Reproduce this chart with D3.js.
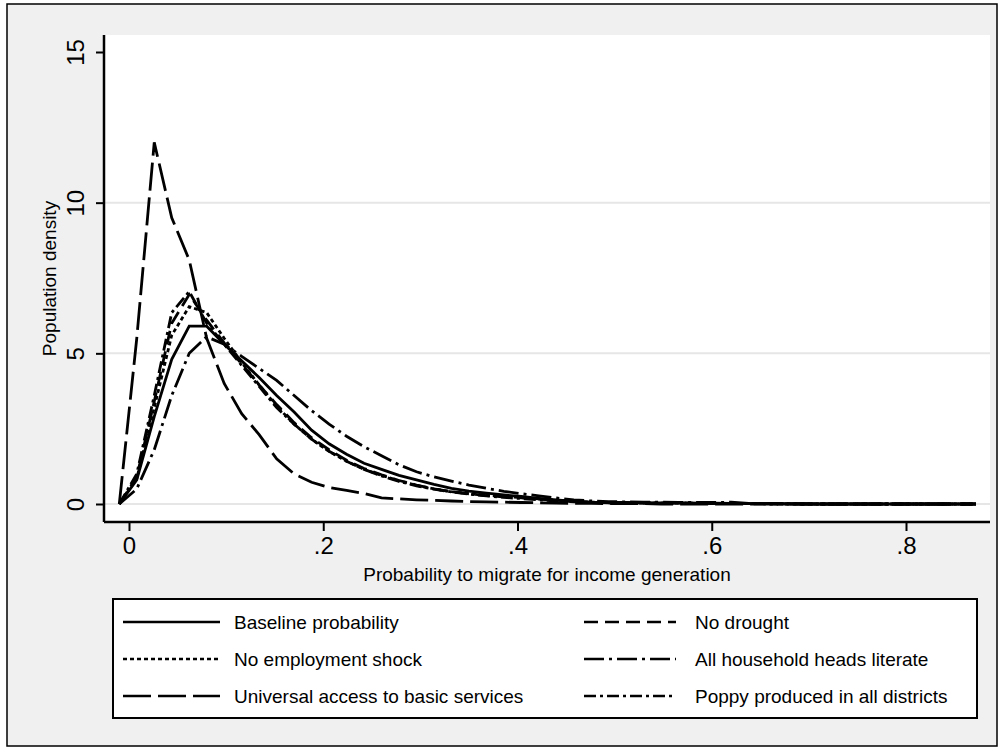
<!DOCTYPE html>
<html>
<head>
<meta charset="utf-8">
<script src="https://cdn.jsdelivr.net/npm/d3@7"></script>
<style>
  body { margin: 0; background: #fff; }
  svg { display: block; font-family: "Liberation Sans", Arial, sans-serif; }
</style>
</head>
<body>
<svg id="chart" width="1003" height="750"></svg>
<script>
// evaluation points of the density estimates
let xGrid = [-0.010, 0.008, 0.026, 0.044, 0.062, 0.080, 0.098, 0.116, 0.134, 0.152,
  0.170, 0.188, 0.206, 0.224, 0.242, 0.260, 0.278, 0.296, 0.314, 0.332,
  0.350, 0.368, 0.386, 0.404, 0.422, 0.440, 0.458, 0.476, 0.494, 0.512,
  0.530, 0.548, 0.566, 0.584, 0.602, 0.620, 0.638, 0.656, 0.674, 0.692,
  0.710, 0.728, 0.746, 0.764, 0.782, 0.800, 0.818, 0.836, 0.854, 0.872];

let baseline = [0, 0.8, 2.9, 4.8, 5.9, 5.9, 5.3, 4.75, 4.2, 3.6,
  3.05, 2.45, 2.0, 1.65, 1.35, 1.15, 0.95, 0.8, 0.65, 0.52,
  0.43, 0.36, 0.3, 0.25, 0.19, 0.14, 0.09, 0.06, 0.05, 0.05,
  0.04, 0.04, 0.04, 0.03, 0.03, 0.02, 0.01, 0.01, 0.01, 0.01,
  0, 0, 0, 0, 0, 0, 0, 0, 0, 0];
let noDrought = [0, 0.9, 3.4, 6.0, 6.95, 6.1, 5.35, 4.65, 3.95, 3.3,
  2.7, 2.2, 1.8, 1.45, 1.18, 0.97, 0.78, 0.63, 0.5, 0.41,
  0.34, 0.28, 0.24, 0.2, 0.16, 0.12, 0.08, 0.05, 0.04, 0.04,
  0.03, 0.03, 0.03, 0.02, 0.02, 0.02, 0.01, 0.01, 0, 0,
  0, 0, 0, 0, 0, 0, 0, 0, 0, 0];
let noEmployShock = [0, 0.85, 3.2, 5.6, 6.55, 6.35, 5.5, 4.7, 3.95, 3.25,
  2.65, 2.15, 1.75, 1.42, 1.15, 0.95, 0.77, 0.62, 0.5, 0.41,
  0.34, 0.29, 0.25, 0.21, 0.17, 0.13, 0.09, 0.06, 0.05, 0.04,
  0.04, 0.03, 0.03, 0.03, 0.02, 0.02, 0.01, 0.01, 0.01, 0,
  0, 0, 0, 0, 0, 0, 0, 0, 0, 0];
let literate = [0, 0.5, 1.8, 3.6, 5.0, 5.55, 5.3, 4.9, 4.5, 4.1,
  3.6, 3.1, 2.65, 2.25, 1.9, 1.6, 1.3, 1.07, 0.9, 0.76,
  0.63, 0.52, 0.42, 0.34, 0.27, 0.2, 0.14, 0.1, 0.08, 0.07,
  0.06, 0.06, 0.05, 0.05, 0.05, 0.06, 0.02, 0.01, 0.01, 0,
  0, 0, 0, 0, 0, 0, 0, 0, 0, 0];
let universal = [0, 5.5, 12.0, 9.5, 8.1, 5.5, 4.0, 3.0, 2.3, 1.5,
  1.0, 0.72, 0.55, 0.45, 0.35, 0.2, 0.17, 0.14, 0.12, 0.1,
  0.08, 0.07, 0.06, 0.05, 0.04, 0.03, 0.02, 0.02, 0.01, 0.01,
  0.01, 0, 0, 0, 0, 0, 0, 0, 0, 0,
  0, 0, 0, 0, 0, 0, 0, 0, 0, 0];
let poppy = [0, 1.0, 3.6, 6.35, 7.05, 6.0, 5.3, 4.6, 3.9, 3.2,
  2.65, 2.15, 1.75, 1.42, 1.15, 0.93, 0.75, 0.6, 0.49, 0.4,
  0.33, 0.27, 0.22, 0.18, 0.14, 0.1, 0.07, 0.05, 0.04, 0.04,
  0.03, 0.03, 0.03, 0.02, 0.02, 0.01, 0.01, 0, 0, 0,
  0, 0, 0, 0, 0, 0, 0, 0, 0, 0];

let seriesNames = ["Baseline probability", "No drought", "No employment shock",
  "All household heads literate", "Universal access to basic services", "Poppy produced in all districts"];
let seriesValues = [baseline, noDrought, noEmployShock, literate, universal, poppy];

let xTicks = [0, 0.2, 0.4, 0.6, 0.8];
let xTickLabels = ["0", ".2", ".4", ".6", ".8"];
let yTicks = [0, 5, 10, 15];
let yGrid = [0, 5, 10];

// line patterns, same order as the series
let dashes = ["none", "14,7", "4,3", "20,5,3,5", "28,7", "12,4,3,4"];

let svg = d3.select("#chart");

// graph region
svg.append("rect").attr("x", 7).attr("y", 4).attr("width", 990).attr("height", 742)
  .attr("fill", "#f0f0f0").attr("stroke", "#000").attr("stroke-width", 1.5);

let plot = {left: 104, right: 990, top: 35, bottom: 522};
svg.append("rect").attr("x", plot.left).attr("y", plot.top)
  .attr("width", plot.right - plot.left).attr("height", plot.bottom - plot.top)
  .attr("fill", "#fff");

let x = d3.scaleLinear().domain([0, 0.8]).range([129, 906]);
let y = d3.scaleLinear().domain([0, 15]).range([504, 52]);

// gridlines
svg.append("g").selectAll("line").data(yGrid).join("line")
  .attr("x1", plot.left).attr("x2", plot.right)
  .attr("y1", d => y(d)).attr("y2", d => y(d))
  .attr("stroke", "#e6e6e6").attr("stroke-width", 2);

// curves
let line = d3.line()
  .x((d, i) => x(xGrid[i]))
  .y(d => y(d));

svg.append("g").selectAll("path").data(seriesValues).join("path")
  .attr("d", d => line(d))
  .attr("fill", "none")
  .attr("stroke", "#000")
  .attr("stroke-width", 2.8)
  .attr("stroke-dasharray", (d, i) => dashes[i]);

// axes
let xAxis = d3.axisBottom(x).tickValues(xTicks)
  .tickFormat((d, i) => xTickLabels[i]).tickSize(9).tickPadding(6).tickSizeOuter(0);
let gx = svg.append("g").attr("transform", "translate(0," + plot.bottom + ")").call(xAxis);
gx.select(".domain").remove();
gx.selectAll(".tick line").attr("stroke", "#000").attr("stroke-width", 2);
gx.selectAll(".tick text").attr("font-size", 24).attr("fill", "#000")
  .attr("font-family", "Liberation Sans, Arial, sans-serif");

let yAxis = d3.axisLeft(y).tickValues(yTicks).tickSize(8).tickSizeOuter(0);
let gy = svg.append("g").attr("transform", "translate(" + plot.left + ",0)").call(yAxis);
gy.select(".domain").remove();
gy.selectAll(".tick line").attr("stroke", "#000").attr("stroke-width", 2);
gy.selectAll(".tick text")
  .attr("font-size", 24).attr("fill", "#000")
  .attr("font-family", "Liberation Sans, Arial, sans-serif")
  .attr("x", null).attr("dy", null)
  .attr("text-anchor", "middle")
  .attr("transform", "translate(-20,0) rotate(-90)");

svg.append("line").attr("x1", plot.left).attr("x2", plot.right)
  .attr("y1", plot.bottom).attr("y2", plot.bottom)
  .attr("stroke", "#000").attr("stroke-width", 2.5);
svg.append("line").attr("x1", plot.left).attr("x2", plot.left)
  .attr("y1", plot.top).attr("y2", plot.bottom)
  .attr("stroke", "#000").attr("stroke-width", 2.5);

// axis titles
svg.append("text").attr("x", (plot.left + plot.right) / 2).attr("y", 581)
  .attr("text-anchor", "middle").attr("font-size", 19)
  .text("Probability to migrate for income generation");
svg.append("text")
  .attr("transform", "translate(56," + (plot.top + plot.bottom) / 2 + ") rotate(-90)")
  .attr("text-anchor", "middle").attr("font-size", 19)
  .text("Population density");

// legend
svg.append("rect").attr("x", 113).attr("y", 599).attr("width", 864).attr("height", 119)
  .attr("fill", "#fff").attr("stroke", "#000").attr("stroke-width", 2);

let legendCols = [{x1: 123, x2: 220, tx: 234}, {x1: 584, x2: 676, tx: 695}];
let legendRows = [622, 659, 696];

let items = svg.append("g").selectAll("g").data(seriesNames).join("g")
  .attr("transform", (d, i) => "translate(0," + legendRows[Math.floor(i / 2)] + ")");
items.append("line")
  .attr("x1", (d, i) => legendCols[i % 2].x1).attr("x2", (d, i) => legendCols[i % 2].x2)
  .attr("stroke", "#000").attr("stroke-width", 2.5)
  .attr("stroke-dasharray", (d, i) => dashes[i]);
items.append("text")
  .attr("x", (d, i) => legendCols[i % 2].tx).attr("dy", "0.35em")
  .attr("font-size", 19)
  .text(d => d);
</script>
</body>
</html>
